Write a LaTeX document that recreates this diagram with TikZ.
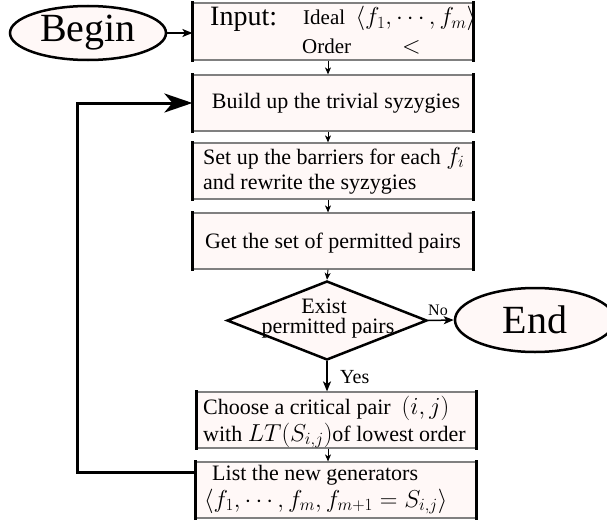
\RequirePackage{fix-cm}
\documentclass[tikz,border=0pt]{standalone}
\usepackage{fontspec}
\setmainfont{Liberation Serif}
\usetikzlibrary{shapes.geometric,arrows.meta,calc}
\definecolor{boxfill}{RGB}{255,248,247}
\newcommand{\fsz}[1]{\fontsize{#1}{#1}\selectfont}
\newcommand{\bm}[1]{{\fsz{24.5}$#1$}}
\newcommand{\boxsides}[1]{%
  \draw[sideline] (#1.north west) -- (#1.south west);
  \draw[sideline] (#1.north east) -- (#1.south east);}
\begin{document}
\begin{tikzpicture}[x=1pt,y=-1pt,
  procbox/.style={rectangle, fill=boxfill, draw=gray, line width=1.2pt,
    minimum width=280pt, minimum height=56pt, inner sep=0pt},
  sideline/.style={line width=3pt, black, line cap=rect},
  txt/.style={anchor=base west, inner sep=0pt, font=\fsz{22}},
  ctxt/.style={anchor=base, inner sep=0pt, font=\fsz{22}},
  termell/.style={ellipse, draw=black, fill=boxfill, line width=2.5pt,
    inner sep=0pt, font=\fsz{40}},
  decdia/.style={diamond, draw=black, fill=boxfill, line width=2.5pt,
    inner sep=0pt, minimum width=200pt, minimum height=79pt},
  flowar/.style={-{Stealth[length=7pt,width=6pt,inset=2pt]}, line width=0.9pt},
  midar/.style={-{Stealth[length=10pt,width=8pt,inset=2.5pt]}, line width=1.5pt},
  loopar/.style={-{Stealth[length=28pt,width=19pt,inset=8pt]}, line width=3pt}
]
\clip (0,0) rectangle (607,519);
\useasboundingbox (0,0) rectangle (607,519);

% terminals
\node[termell, minimum width=156pt, minimum height=54pt] (begin) at (88,33) {Begin};
\node[termell, minimum width=160pt, minimum height=64pt] (endn) at (535,320) {End};

% process boxes
\node[procbox, minimum height=57pt] (input) at (333,31.5) {};
\node[procbox] (build) at (333,103) {};
\node[procbox] (setup) at (333,171) {};
\node[procbox] (getp) at (333,241) {};
\node[procbox, minimum width=279pt] (choose) at (336.5,420) {};
\node[procbox] (list) at (336,490) {};
\boxsides{input}
\boxsides{build}
\boxsides{setup}
\boxsides{getp}
\boxsides{choose}
\boxsides{list}

% decision
\node[decdia] (exist) at (327,320.5) {};

% texts
\node[txt, font=\fsz{28}] (tin) at (210,26) {Input:};
\node[txt, font=\fsz{21}] (tideal) at (303,25) {Ideal\ \ \bm{\langle f_1,\cdots,f_m\rangle}};
\node[txt, font=\fsz{21}] (torder) at (302,53) {Order};
\node[txt] (tless) at (402,53) {\bm{<}};
\node[ctxt] (tbuild) at (336,108) {Build up the trivial syzygies};
\node[txt] (tset1) at (203,164) {Set up the barriers for each \bm{f_i}};
\node[txt] (tset2) at (203,189) {and rewrite the syzygies};
\node[ctxt] (tget) at (333,248) {Get the set of permitted pairs};
\node[ctxt] (tex1) at (324,313) {Exist};
\node[ctxt] (tex2) at (328,333) {permitted pairs};
\node[txt] (tch1) at (203,414) {Choose a critical pair\ \ \bm{(i,j)}};
\node[txt] (tch2) at (203,441) {with \bm{LT(S_{i,j})}of lowest order};
\node[txt] (tli1) at (212,480) {List the new generators};
\node[txt] (tli2) at (204,507) {\bm{\langle f_1,\cdots,f_m,f_{m+1}=S_{i,j}\rangle}};

% connectors
\coordinate (ax) at (328,0);
\draw[midar] (begin.east) -- (input.west |- begin.east);
\draw[flowar] (input.south -| ax) -- (build.north -| ax);
\draw[flowar] (build.south -| ax) -- (setup.north -| ax);
\draw[flowar] (setup.south -| ax) -- (getp.north -| ax);
\draw[flowar] (getp.south -| ax) -- (exist.north);
\draw[midar] (exist.east) -- (endn.west);
\node[anchor=base west, inner sep=0pt, font=\fsz{16}] (tno) at (428,315) {No};
\draw[midar] (exist.south) -- (choose.north -| exist.south);
\node[anchor=base west, inner sep=0pt, font=\fsz{20}] (tyes) at (340,383) {Yes};
\draw[flowar] (choose.south -| ax) -- (list.north -| ax);
\coordinate (lb) at (77,472);
\draw[loopar] (list.west |- lb) -- (lb) |- (build.west);
\end{tikzpicture}
\end{document}
